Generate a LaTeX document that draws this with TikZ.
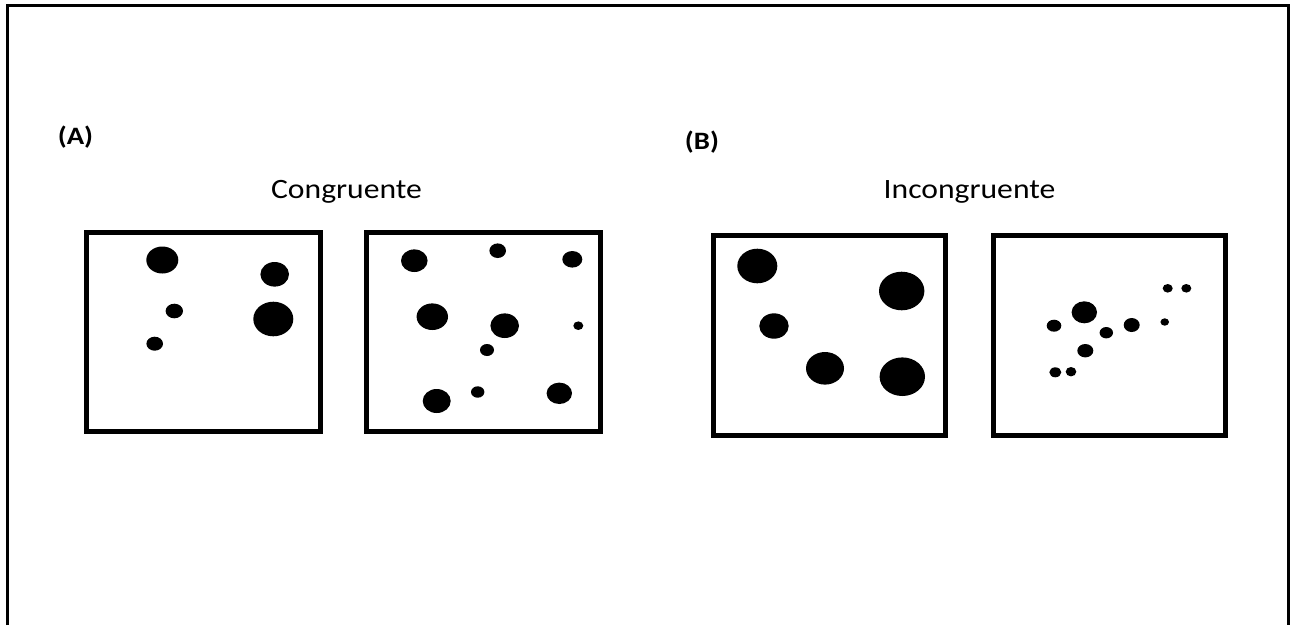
\documentclass[tikz,border=0pt]{standalone}
\usepackage{fontspec}
\setmainfont{Carlito}
\begin{document}
\begin{tikzpicture}[x=1pt,y=-1pt,
  panel/.style={line width=5pt},
  frame/.style={line width=3.5pt},
  dot/.style={fill=black},
  title/.style={font=\fontsize{28}{30}\selectfont, anchor=base, xscale=1.13, transform shape},
  tag/.style={font=\bfseries\fontsize{25}{28}\selectfont, anchor=base, xscale=1.15, transform shape}]
\useasboundingbox (0,0) rectangle (1290,625);
% outer frame (no bottom edge)
\draw[frame] (7.3,625) -- (7.3,5.5) -- (1288.5,5.5) -- (1288.5,625);
% labels
\node[tag] (la) at (75.5,144) {(A)};
\node[tag] (lb) at (702,149) {(B)};
\node[title] (tc) at (346.5,198) {Congruente};
\node[title] (ti) at (969.5,198.5) {Incongruente};
% panels
\draw[panel] (86.5,232) rectangle (320,431);
\draw[panel] (366.5,232) rectangle (600,431);
\draw[panel] (713.5,235.5) rectangle (945,435.5);
\draw[panel] (993.5,235.5) rectangle (1225,435.5);
% panel 1 dots
\fill[dot] (162.3,260) ellipse [x radius=16, y radius=13.5];
\fill[dot] (274.7,274.3) ellipse [x radius=14.3, y radius=12.3];
\fill[dot] (174.3,311) ellipse [x radius=8.7, y radius=7.3];
\fill[dot] (273.3,319) ellipse [x radius=20, y radius=17.3];
\fill[dot] (154.7,343.7) ellipse [x radius=8.3, y radius=7];
% panel 2 dots
\fill[dot] (414.3,260.7) ellipse [x radius=13.3, y radius=11.3];
\fill[dot] (497.7,250.7) ellipse [x radius=8.3, y radius=7.3];
\fill[dot] (572.3,259.3) ellipse [x radius=10, y radius=8.3];
\fill[dot] (432.3,316.7) ellipse [x radius=15.7, y radius=13.3];
\fill[dot] (504.7,325.7) ellipse [x radius=14.3, y radius=12.3];
\fill[dot] (578.3,325.7) ellipse [x radius=5, y radius=4.3];
\fill[dot] (487,350) ellipse [x radius=7, y radius=6];
\fill[dot] (436.7,401) ellipse [x radius=14, y radius=12];
\fill[dot] (477.7,392) ellipse [x radius=6.7, y radius=5.7];
\fill[dot] (559.3,393.3) ellipse [x radius=12.7, y radius=10.7];
% panel 3 dots
\fill[dot] (757.3,266) ellipse [x radius=20, y radius=17.3];
\fill[dot] (901.7,291) ellipse [x radius=22.7, y radius=19.3];
\fill[dot] (774,326) ellipse [x radius=14.7, y radius=12.7];
\fill[dot] (825,368.3) ellipse [x radius=19, y radius=16.3];
\fill[dot] (902.3,376.7) ellipse [x radius=22.7, y radius=19.3];
% panel 4 dots
\fill[dot] (1084.3,312.3) ellipse [x radius=12.7, y radius=11];
\fill[dot] (1054,325.7) ellipse [x radius=7.3, y radius=6];
\fill[dot] (1106.3,332.7) ellipse [x radius=6.7, y radius=5.7];
\fill[dot] (1131.7,325) ellipse [x radius=8, y radius=7];
\fill[dot] (1085.3,350.7) ellipse [x radius=8, y radius=6.7];
\fill[dot] (1167.7,288.3) ellipse [x radius=5, y radius=4.3];
\fill[dot] (1186.3,288.3) ellipse [x radius=5, y radius=4.3];
\fill[dot] (1164.7,322) ellipse [x radius=4.3, y radius=3.7];
\fill[dot] (1055.3,372.3) ellipse [x radius=6, y radius=5];
\fill[dot] (1071,371.7) ellipse [x radius=5.3, y radius=4.7];
\end{tikzpicture}
\end{document}
